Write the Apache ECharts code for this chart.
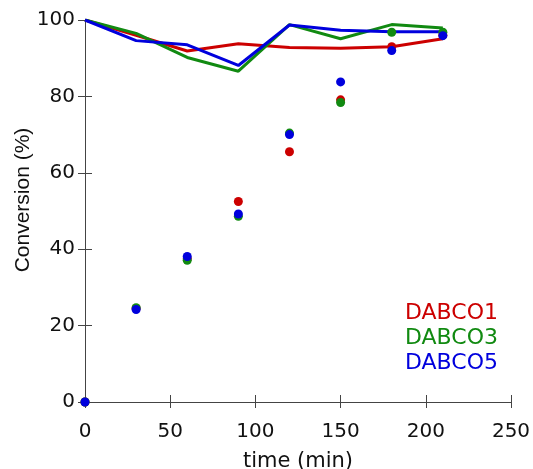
<!DOCTYPE html>
<html>
<head>
<meta charset="utf-8">
<script src="https://cdn.jsdelivr.net/npm/echarts@6/dist/echarts.min.js"></script>
<style>
  html, body { margin: 0; padding: 0; background: #fff; }
  #chart { width: 533px; height: 469px; }
</style>
</head>
<body>
<div id="chart"></div>
<script>
// sampling times (min)
var times = [0, 30, 60, 90, 120, 150, 180, 210];

// upper curves (drawn as lines)
var lineDabco1 = [100, 96, 91.9, 93.8, 92.8, 92.6, 93.0, 95.1];
var lineDabco3 = [100, 96.5, 90.2, 86.6, 98.8, 95.1, 98.8, 97.9];
var lineDabco5 = [100, 94.6, 93.5, 88.1, 98.7, 97.3, 96.9, 96.9];

// conversion points (drawn as dots)
var convDabco1 = [0, 24.5, 37.5, 52.5, 65.5, 79.1, 93.0, 96.0];
var convDabco3 = [0, 24.7, 37.1, 48.6, 70.4, 78.4, 96.8, 96.8];
var convDabco5 = [0, 24.2, 38.1, 49.2, 70.0, 83.8, 92.0, 95.9];

var names = ['DABCO1', 'DABCO3', 'DABCO5'];
var colors = ['#cc0000', '#118a11', '#0000dd'];

function pairs(ys) {
    return times.map(function (t, i) { return [t, ys[i]]; });
}

var chart = echarts.init(document.getElementById('chart'));

var axisFont = 'DejaVu Sans';
var lineCol = '#444';

var series = [];
[lineDabco1, lineDabco3, lineDabco5].forEach(function (ys, i) {
    series.push({
        name: names[i],
        type: 'line',
        data: pairs(ys),
        showSymbol: false,
        lineStyle: { color: colors[i], width: 3 },
        itemStyle: { color: colors[i] },
        z: 2
    });
});
[convDabco1, convDabco3, convDabco5].forEach(function (ys, i) {
    series.push({
        name: names[i],
        type: 'scatter',
        data: pairs(ys),
        symbolSize: 9,
        itemStyle: { color: colors[i], opacity: 1 },
        z: 3
    });
});

var option = {
    animation: false,
    grid: { left: 85, right: 22, top: 20, bottom: 67, outerBoundsMode: 'none' },
    legend: {
        orient: 'vertical',
        left: 395,
        top: 297,
        icon: 'none',
        itemWidth: 0,
        itemHeight: 14,
        itemGap: 2,
        selectedMode: false,
        data: names.map(function (n, i) {
            return { name: n, textStyle: { color: colors[i] } };
        }),
        textStyle: { fontFamily: axisFont, fontSize: 22, lineHeight: 23 }
    },
    xAxis: [
        {
            type: 'value',
            min: 0, max: 250, interval: 50,
            name: 'time (min)',
            nameLocation: 'middle',
            nameGap: 49,
            nameTextStyle: { fontFamily: axisFont, fontSize: 21, color: '#111' },
            axisLine: { lineStyle: { color: lineCol } },
            axisTick: { inside: true, length: 7, lineStyle: { color: lineCol } },
            axisLabel: { fontFamily: axisFont, fontSize: 20, color: '#111', margin: 20 },
            splitLine: { show: false }
        },
        {
            type: 'value',
            position: 'top',
            min: 0, max: 250, interval: 50,
            axisLine: { show: true, lineStyle: { color: lineCol } },
            axisTick: { inside: true, length: 6, lineStyle: { color: lineCol } },
            axisLabel: { show: false },
            splitLine: { show: false }
        }
    ],
    yAxis: [
        {
            type: 'value',
            min: 0, max: 100, interval: 20,
            axisLine: { show: true, lineStyle: { color: lineCol } },
            axisTick: { show: true, inside: true, length: 7, lineStyle: { color: lineCol } },
            axisLabel: { fontFamily: axisFont, fontSize: 20, color: '#111', margin: 10 },
            splitLine: { show: false }
        },
        {
            type: 'value',
            position: 'right',
            min: 0, max: 100, interval: 20,
            axisLine: { show: true, lineStyle: { color: lineCol } },
            axisTick: { show: true, inside: true, length: 7, lineStyle: { color: lineCol } },
            axisLabel: { show: false },
            splitLine: { show: false }
        }
    ],
    graphic: [
        {
            type: 'text',
            x: 23,
            y: 200,
            rotation: Math.PI / 2,
            style: {
                text: 'Conversion (%)',
                font: '21px "Liberation Sans", Arial, sans-serif',
                fill: '#111',
                align: 'center',
                verticalAlign: 'middle'
            }
        }
    ],
    series: series
};

chart.setOption(option);
</script>
</body>
</html>
